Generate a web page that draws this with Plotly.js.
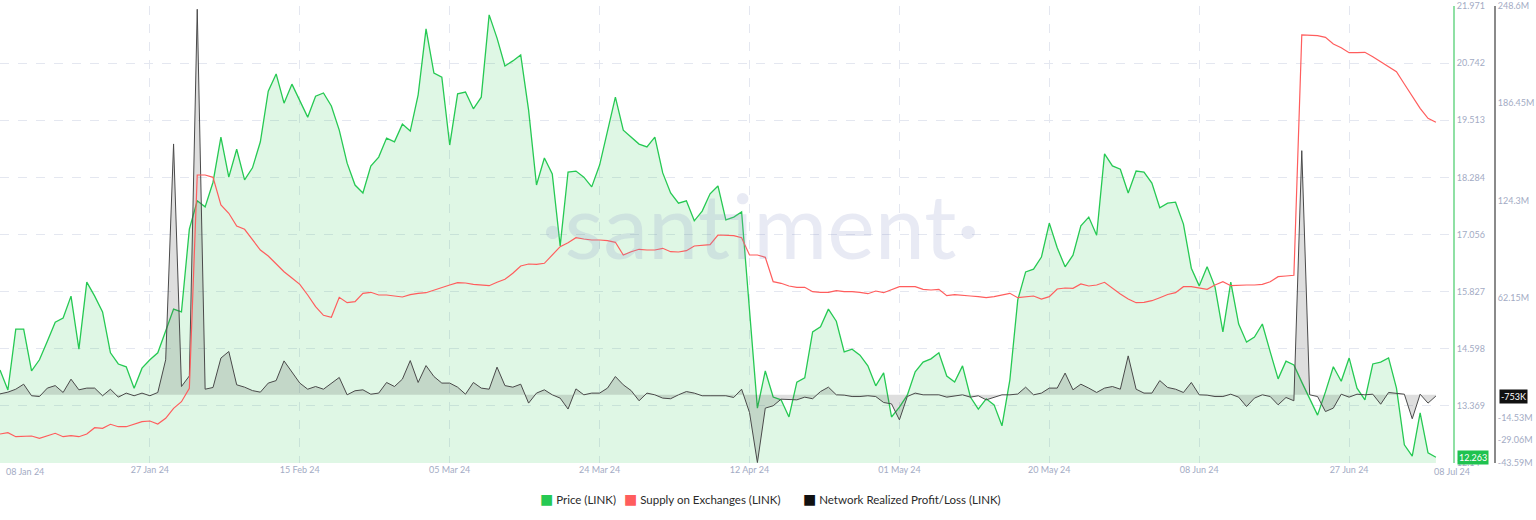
<!DOCTYPE html>
<html>
<head>
<meta charset="utf-8">
<script src="https://cdn.plot.ly/plotly-3.0.1.min.js"></script>
<style>
  html, body { margin: 0; padding: 0; background: #ffffff; }
  #chart { width: 1536px; height: 520px; }
</style>
</head>
<body>
<div id="chart"></div>
<script>
// ---- Data (daily, 08 Jan 2024 .. 08 Jul 2024) ----
const startDate = [2024, 0, 8];
const dayCount = 183;

const priceLINK = [
  14.14,13.71,15.02,15.02,14.12,14.36,14.76,15.17,15.26,15.73,
  14.59,16.03,15.73,15.39,14.51,14.27,14.21,13.75,14.18,14.36,
  14.51,15.00,15.45,15.39,17.17,17.78,17.65,18.18,19.15,18.29,
  18.89,18.23,18.49,19.05,20.14,20.51,19.88,20.29,19.95,19.58,
  20.03,20.10,19.82,19.30,18.59,18.12,17.95,18.53,18.72,19.13,
  19.05,19.43,19.28,20.06,21.48,20.53,20.44,18.98,20.08,20.12,
  19.76,20.01,21.78,21.28,20.68,20.79,20.92,19.73,18.12,18.70,
  18.36,16.81,18.40,18.42,18.29,18.08,18.55,19.30,20.01,19.30,
  19.15,19.00,18.94,19.15,18.38,17.95,17.73,17.78,17.35,17.56,
  17.93,18.10,17.37,17.43,17.54,15.43,13.32,14.12,13.56,13.50,
  13.13,13.88,13.97,14.96,15.07,15.45,15.19,14.53,14.59,14.46,
  14.23,13.80,14.08,13.13,13.34,13.60,14.10,14.31,14.38,14.51,
  14.01,13.88,14.23,13.56,13.30,13.52,13.39,12.94,13.93,15.65,
  16.25,16.31,16.57,17.30,16.77,16.36,16.61,17.24,17.43,17.04,
  18.79,18.53,18.46,17.95,18.42,18.40,18.16,17.63,17.73,17.75,
  17.28,16.33,15.95,16.36,15.93,14.96,16.03,15.13,14.74,14.85,
  15.13,14.53,13.95,14.33,14.25,13.88,13.52,13.17,13.67,14.21,
  13.90,14.40,13.75,13.50,14.27,14.31,14.40,13.75,12.53,12.29,
  13.22,12.36,12.263
];

// Supply on Exchanges (LINK), millions
const supplyOnExchanges = [
  132.90,133.03,132.63,132.63,132.70,132.47,132.70,132.97,132.63,132.73,
  132.63,132.90,133.53,133.47,133.87,133.63,133.63,133.87,134.13,134.20,
  133.90,134.47,135.47,136.13,137.47,158.80,158.80,158.57,155.80,154.97,
  153.70,153.37,152.37,151.30,150.70,149.90,149.13,148.50,147.87,146.80,
  145.63,144.77,144.57,146.57,146.03,146.13,146.97,147.07,146.80,146.80,
  146.70,146.60,146.83,146.97,147.03,147.30,147.57,147.80,148.03,148.00,
  147.87,147.80,147.73,148.07,148.37,148.97,149.70,149.90,149.87,149.97,
  150.80,151.63,152.03,152.53,152.40,152.30,152.30,152.23,152.07,150.80,
  151.13,151.37,151.30,151.30,151.47,151.13,151.10,151.23,151.70,151.77,
  151.83,152.80,152.80,152.73,152.53,150.80,150.80,150.57,148.13,147.97,
  147.70,147.57,147.57,147.13,147.07,147.07,147.23,147.13,147.13,147.07,
  146.93,147.20,147.03,147.37,147.63,147.63,147.63,147.37,147.30,147.37,
  146.73,146.83,146.73,146.70,146.63,146.53,146.63,146.80,146.97,146.53,
  146.60,146.70,146.40,146.63,147.40,147.50,147.47,147.90,147.70,147.80,
  148.07,147.47,146.90,146.40,146.03,146.07,146.23,146.53,146.85,147.03,
  147.63,147.63,147.47,147.37,147.80,148.13,147.73,147.80,147.80,147.80,
  147.87,148.13,148.63,148.70,148.77,172.80,172.80,172.73,172.57,171.90,
  171.53,171.03,171.03,171.07,170.63,170.13,169.70,169.13,167.90,166.63,
  165.47,164.47,164.07
];

// Network Realized Profit/Loss (LINK), millions USD
const networkRealizedPL = [
  0.6,1.7,3.6,6.8,-0.6,-1.1,4.3,5.9,1.5,10.0,
  3.2,4.3,4.3,-0.6,3.6,-1.5,1.1,-0.6,1.1,-0.6,
  1.5,22.4,160.4,5.3,12.1,246.5,3.6,4.7,23.5,27.7,
  6.4,4.9,2.7,1.7,7.5,9.1,21.7,15.0,7.5,3.6,
  5.3,3.6,7.5,11.1,0.0,2.6,3.2,0.4,1.1,7.9,
  5.3,10.0,21.9,7.9,18.7,11.7,7.5,7.5,4.9,0.4,
  7.9,4.3,3.6,17.7,5.9,4.9,6.8,-5.3,1.1,3.2,
  0.0,-2.1,-9.1,3.8,0.0,1.1,1.1,4.3,11.7,6.4,
  2.7,-3.8,1.1,0.0,-2.1,-2.5,0.0,2.1,1.1,-0.6,
  -0.6,-0.6,-0.6,-1.7,3.6,-11.3,-43.3,-8.5,-7.0,-2.8,
  -3.2,-3.2,-1.5,-2.5,2.1,4.9,0.0,-0.2,-1.1,-1.1,
  -0.6,-1.1,-4.9,-5.8,-16.0,-1.1,1.1,0.0,0.0,0.0,
  -1.5,-0.6,0.0,-1.5,-0.6,-3.2,-1.7,0.0,0.0,0.5,
  4.9,0.0,1.1,4.3,4.3,13.9,3.2,6.8,4.3,1.5,
  4.3,5.3,3.6,24.9,3.6,1.1,1.1,9.1,4.7,3.6,
  1.5,7.9,0.0,-0.2,-1.1,-1.1,0.4,-1.5,-7.5,-2.1,
  0.0,-1.1,-6.4,-1.7,-3.8,156.1,0.0,-1.1,-10.7,-8.5,
  0.4,-1.5,0.4,0.0,0.4,-6.0,1.5,0.8,0.4,-15.3,
  0.4,-5.3,-0.753
];

// Axis ticks
const xTickVals = ['2024-01-27','2024-02-15','2024-03-05','2024-03-24','2024-04-12','2024-05-01','2024-05-20','2024-06-08','2024-06-27'];
const xTickText = ['27 Jan 24','15 Feb 24','05 Mar 24','24 Mar 24','12 Apr 24','01 May 24','20 May 24','08 Jun 24','27 Jun 24'];
const priceTickVals = [12.14,13.369,14.598,15.827,17.056,18.284,19.513,20.742,21.971];
const priceTickText = ['12.14','13.369','14.598','15.827','17.056','18.284','19.513','20.742','21.971'];
const plTickVals = [-43.59,-29.06,-14.53,62.15,124.3,186.45,248.6];
const plTickText = ['-43.59M','-29.06M','-14.53M','62.15M','124.3M','186.45M','248.6M'];

// ---- Build dates ----
const dates = [];
for (let i = 0; i < dayCount; i++) {
  const d = new Date(Date.UTC(startDate[0], startDate[1], startDate[2] + i));
  dates.push(d.toISOString().slice(0, 10));
}

const GREEN = '#26c953';
const RED = '#ff5d5d';
const DARK = '#4a4a4a';
const TICK_FONT = {family: 'Lato, "Open Sans", sans-serif', size: 9, color: '#a3abc4'};

const traces = [
  {
    name: 'Price (LINK)', x: dates, y: priceLINK, yaxis: 'y', type: 'scatter', mode: 'lines',
    line: {color: GREEN, width: 1.3}, fill: 'tozeroy', fillcolor: 'rgba(38,201,83,0.15)',
    hoverinfo: 'skip'
  },
  {
    name: 'Network Realized Profit/Loss (LINK)', x: dates, y: networkRealizedPL, yaxis: 'y2', type: 'scatter', mode: 'lines',
    line: {color: DARK, width: 1}, fill: 'tozeroy', fillcolor: 'rgba(70,70,70,0.18)',
    hoverinfo: 'skip'
  },
  {
    name: 'Supply on Exchanges (LINK)', x: dates, y: supplyOnExchanges, yaxis: 'y3', type: 'scatter', mode: 'lines',
    line: {color: RED, width: 1.2},
    hoverinfo: 'skip'
  }
];

const W = 1536, MR = 41, PW = W - MR; // paper width in px
const px = v => v / PW;
const py = v => (463 - v) / 457;
const LEG_FONT = {family: 'Lato, "Open Sans", sans-serif', size: 11.5, color: '#2a2a2a'};
const sq = c => '<span style="color:' + c + ';font-size:14px;font-family:DejaVu Sans">■</span> ';

const layout = {
  width: 1536, height: 520,
  margin: {l: 0, r: MR, t: 6, b: 57, pad: 0},
  paper_bgcolor: '#ffffff', plot_bgcolor: '#ffffff',
  showlegend: false,
  xaxis: {
    type: 'date', domain: [0, 1453 / PW],
    range: ['2024-01-08', '2024-07-10 04:00'],
    tickvals: xTickVals, ticktext: xTickText,
    showgrid: true, gridcolor: '#e4e7f0', griddash: 'dash', gridwidth: 1,
    zeroline: false, showline: false, ticks: '',
    tickfont: TICK_FONT, fixedrange: true
  },
  yaxis: {
    side: 'right', range: [12.14, 21.971],
    tickvals: priceTickVals, ticktext: priceTickText,
    showgrid: true, gridcolor: '#e4e7f0', griddash: 'dash', gridwidth: 1,
    zeroline: false, showline: true, linecolor: '#8fe0a4', linewidth: 2,
    ticks: '', tickfont: TICK_FONT, fixedrange: true
  },
  yaxis2: {
    overlaying: 'y', side: 'right', anchor: 'free', position: 1,
    range: [-43.59, 248.6],
    tickvals: plTickVals, ticktext: plTickText,
    showgrid: false, zeroline: false, showline: true, linecolor: '#8a8a8a', linewidth: 2,
    ticks: '', tickfont: TICK_FONT, fixedrange: true
  },
  yaxis3: {
    overlaying: 'y', range: [130.0, 175.7], visible: false, fixedrange: true
  },
  annotations: [
    {xref: 'paper', yref: 'paper', x: px(760), y: py(224), text: '·santiment·', showarrow: false,
     xanchor: 'center', yanchor: 'middle',
     font: {family: 'Lato, "Open Sans", sans-serif', size: 90, color: 'rgba(140,150,200,0.20)'}},
    {xref: 'paper', yref: 'paper', x: px(4), y: py(471), text: '08 Jan 24', showarrow: false,
     xanchor: 'left', yanchor: 'middle', font: TICK_FONT},
    {xref: 'paper', yref: 'paper', x: px(1452), y: py(471), text: '08 Jul 24', showarrow: false,
     xanchor: 'center', yanchor: 'middle', font: TICK_FONT},
    {xref: 'paper', yref: 'y', x: px(1457), y: priceLINK[priceLINK.length - 1], text: '12.263', showarrow: false,
     xanchor: 'left', yanchor: 'middle', bgcolor: '#1fc24f', borderpad: 1,
     font: {family: 'Lato, "Open Sans", sans-serif', size: 9, color: '#ffffff'}},
    {xref: 'paper', yref: 'y2', x: px(1499), y: networkRealizedPL[networkRealizedPL.length - 1], text: '-753K', showarrow: false,
     xanchor: 'left', yanchor: 'middle', bgcolor: '#111111', borderpad: 1,
     font: {family: 'Lato, "Open Sans", sans-serif', size: 9, color: '#ffffff'}},
    {xref: 'paper', yref: 'paper', x: px(538), y: py(499), showarrow: false, xanchor: 'left', yanchor: 'middle',
     text: sq(GREEN) + 'Price (LINK)', font: LEG_FONT},
    {xref: 'paper', yref: 'paper', x: px(622), y: py(499), showarrow: false, xanchor: 'left', yanchor: 'middle',
     text: sq(RED) + 'Supply on Exchanges (LINK)', font: LEG_FONT},
    {xref: 'paper', yref: 'paper', x: px(801), y: py(499), showarrow: false, xanchor: 'left', yanchor: 'middle',
     text: sq('#111111') + 'Network Realized Profit/Loss (LINK)', font: LEG_FONT}
  ]
};

Plotly.newPlot('chart', traces, layout, {displayModeBar: false, staticPlot: true});
</script>
</body>
</html>
